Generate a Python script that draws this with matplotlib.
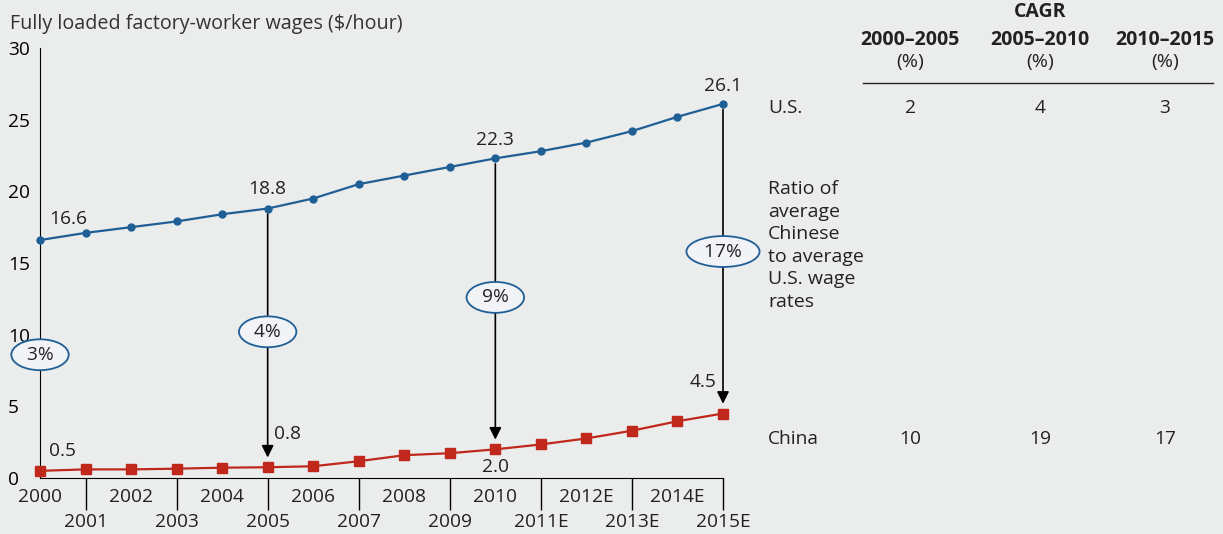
import matplotlib.pyplot as plt

plt.rcParams['font.family'] = ['Open Sans', 'DejaVu Sans']

years = list(range(2000, 2016))
us = [16.6, 17.1, 17.5, 17.9, 18.4, 18.8, 19.5, 20.5, 21.1, 21.7, 22.3, 22.8, 23.4, 24.2, 25.2, 26.1]
china = [0.5, 0.6, 0.6, 0.65, 0.72, 0.75, 0.82, 1.17, 1.59, 1.73, 2.0, 2.34, 2.76, 3.3, 3.96, 4.5]
year_labels = ['2000', '2001', '2002', '2003', '2004', '2005', '2006', '2007', '2008', '2009',
               '2010', '2011E', '2012E', '2013E', '2014E', '2015E']

# подписи значений и смещения (в пунктах)
us_labels = {2000: '16.6', 2005: '18.8', 2010: '22.3', 2015: '26.1'}
cn_labels = {2000: '0.5', 2005: '0.8', 2010: '2.0', 2015: '4.5'}
us_off = {2000: (20, 15), 2005: (0, 14), 2010: (0, 13), 2015: (0, 13)}
cn_off = {2000: (16, 14), 2005: (14, 24), 2010: (0, -13), 2015: (-14, 23)}

# отношение зарплат Китай / США
ratio_years = [2000, 2005, 2010, 2015]
ratio_text = ['3%', '4%', '9%', '17%']
ratio_pos = [8.6, 10.2, 12.6, 15.8]

# таблица CAGR
periods = ['2000–2005', '2005–2010', '2010–2015']
cagr_us = ['2', '4', '3']
cagr_china = ['10', '19', '17']

W, H = 1223, 534
bg = '#EBECEC'
blue = '#1F5F96'
red = '#C0281C'
fs = 13.8

fig = plt.figure(figsize=(W / 100, H / 100), dpi=100, facecolor=bg)
ax = fig.add_axes([40 / W, 1 - 478 / H, (723 - 40) / W, (478 - 48) / H], facecolor=bg)


def fx(px):
    return px / W


def fy(py):
    return 1 - py / H


ax.plot(years, us, '-o', color=blue, lw=1.6, ms=5, clip_on=False, zorder=3)
ax.plot(years, china, '-s', color=red, lw=1.6, ms=7, clip_on=False, zorder=3)

for yr, t in us_labels.items():
    i = years.index(yr)
    ax.annotate(t, xy=(yr, us[i]), xytext=us_off[yr], textcoords='offset points',
                ha='center', va='center', fontsize=fs, color='#222222')
for yr, t in cn_labels.items():
    i = years.index(yr)
    ax.annotate(t, xy=(yr, china[i]), xytext=cn_off[yr], textcoords='offset points',
                ha='center', va='center', fontsize=fs, color='#222222')

# стрелки от США к Китаю
for yr in ratio_years[1:]:
    i = years.index(yr)
    ax.annotate('', xy=(yr, china[i]), xytext=(yr, us[i]),
                arrowprops=dict(arrowstyle='-|>', color='black', lw=1.2,
                                shrinkA=4, shrinkB=7, mutation_scale=18))

for yr, t, v in zip(ratio_years, ratio_text, ratio_pos):
    ax.text(yr, v, ' ' + t + ' ', ha='center', va='center', fontsize=fs, color='#222222', zorder=5,
            bbox=dict(boxstyle='ellipse,pad=0.1', fc='#F1F3F6', ec=blue, lw=1.3), clip_on=False)

ax.set_xlim(2000, 2015)
ax.set_ylim(0, 30)
ax.spines['top'].set_visible(False)
ax.spines['right'].set_visible(False)
ax.spines['left'].set_color('black')
ax.spines['bottom'].set_color('black')
ax.set_yticks([0, 5, 10, 15, 20, 25, 30])
ax.tick_params(axis='y', length=0, pad=23, labelsize=fs)
for lab in ax.get_yticklabels():
    lab.set_horizontalalignment('left')

# подписи оси X в два ряда
ax.set_xticks(years[1::2])
ax.tick_params(axis='x', length=23, width=1, color='black', labelbottom=False)
tr = ax.get_xaxis_transform()
for yr, lab in zip(years, year_labels):
    row_y = -0.045 if yr % 2 == 0 else -0.103
    ax.text(yr, row_y, lab, transform=tr, ha='center', va='center', fontsize=fs,
            color='#222222', clip_on=False)

fig.text(fx(10), fy(24), 'Fully loaded factory-worker wages ($/hour)', fontsize=14.2,
         color='#333333', va='center', ha='left')

# таблица справа
col_x = [910, 1040, 1165]
fig.text(fx(1040), fy(12), 'CAGR', fontsize=14, fontweight='bold', ha='center', va='center',
         color='#222222')
for x, p in zip(col_x, periods):
    fig.text(fx(x), fy(40), p, fontsize=14, fontweight='bold', ha='center', va='center',
             color='#222222')
    fig.text(fx(x), fy(62), '(%)', fontsize=14, ha='center', va='center', color='#222222')
fig.add_artist(plt.Line2D([fx(863), fx(1213)], [fy(83), fy(83)], color='#222222', lw=1))

fig.text(fx(768), fy(108), 'U.S.', fontsize=fs, ha='left', va='center', color='#222222')
fig.text(fx(768), fy(439), 'China', fontsize=fs, ha='left', va='center', color='#222222')
for x, a, b in zip(col_x, cagr_us, cagr_china):
    fig.text(fx(x), fy(108), a, fontsize=fs, ha='center', va='center', color='#222222')
    fig.text(fx(x), fy(439), b, fontsize=fs, ha='center', va='center', color='#222222')

fig.text(fx(768), fy(180), 'Ratio of\naverage\nChinese\nto average\nU.S. wage\nrates',
         fontsize=14, ha='left', va='top', linespacing=1.33, color='#222222')

fig.savefig('out.png', dpi=100, facecolor=bg)
